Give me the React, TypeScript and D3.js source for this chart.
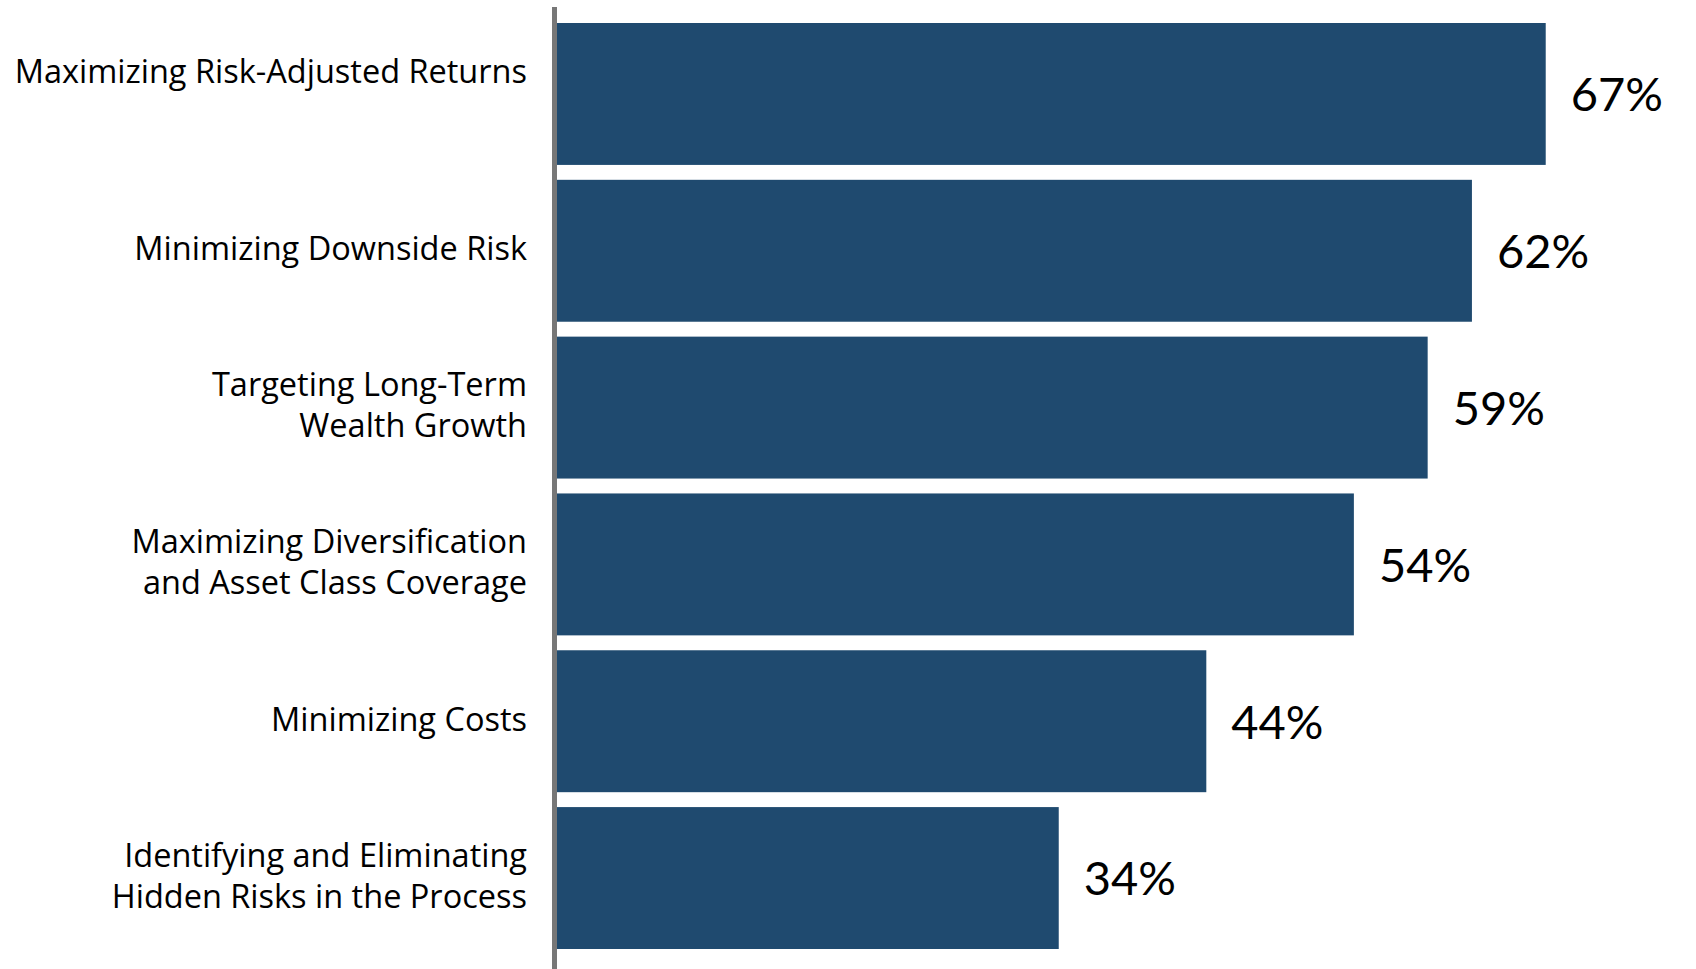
import React, { useEffect } from "react";
import * as d3 from "d3";

const categories: string[][] = [
  ["Maximizing Risk-Adjusted Returns", ""],
  ["Minimizing Downside Risk"],
  ["Targeting Long-Term", "Wealth Growth"],
  ["Maximizing Diversification", "and Asset Class Coverage"],
  ["Minimizing Costs"],
  ["Identifying and Eliminating", "Hidden Risks in the Process"],
];
const values: number[] = [67, 62, 59, 54, 44, 34];
const valueLabels: string[] = ["67%", "62%", "59%", "54%", "44%", "34%"];

const W = 1696;
const H = 969;
const BAR_COLOR = "#1f4a6f";
const LABEL_FONT = "'Open Sans', Lato, sans-serif";
const VALUE_FONT = "Lato, 'Open Sans', sans-serif";

export default function App() {
  useEffect(() => {
    document.body.style.margin = "0";
    document.body.style.overflow = "hidden";
  }, []);

  const keys = categories.map((_, i) => String(i));
  const y = d3.scaleBand<string>().domain(keys).range([23, 949]).paddingInner(0.095).paddingOuter(0);
  const x = d3.scaleLinear().domain([0, 100]).range([557, 557 + 1475.7]);
  const lineH = 41;

  return (
    <svg width={W} height={H} style={{ position: "absolute", left: 0, top: 0, display: "block" }}>
      <rect x={0} y={0} width={W} height={H} fill="#fff" />
      {values.map((v, i) => {
        const by = y(keys[i])!;
        const bw = y.bandwidth();
        const cy = by + bw / 2;
        const lines = categories[i];
        return (
          <g key={i}>
            <rect x={x(0)} y={by} width={x(v) - x(0)} height={bw} fill={BAR_COLOR} />
            <text x={x(v) + 25} y={cy + 1} dy="0.35em" fontSize={47} fill="#000" fontFamily={VALUE_FONT}>
              {valueLabels[i]}
            </text>
            {lines.map((ln, j) => (
              <text
                key={j}
                x={527}
                y={cy - 2 + (j - (lines.length - 1) / 2) * lineH}
                dy="0.35em"
                fontSize={32.5}
                textAnchor="end"
                fill="#000"
                fontFamily={LABEL_FONT}
              >
                {ln}
              </text>
            ))}
          </g>
        );
      })}
      <rect x={552} y={7} width={5} height={H - 7} fill="#777" />
    </svg>
  );
}
